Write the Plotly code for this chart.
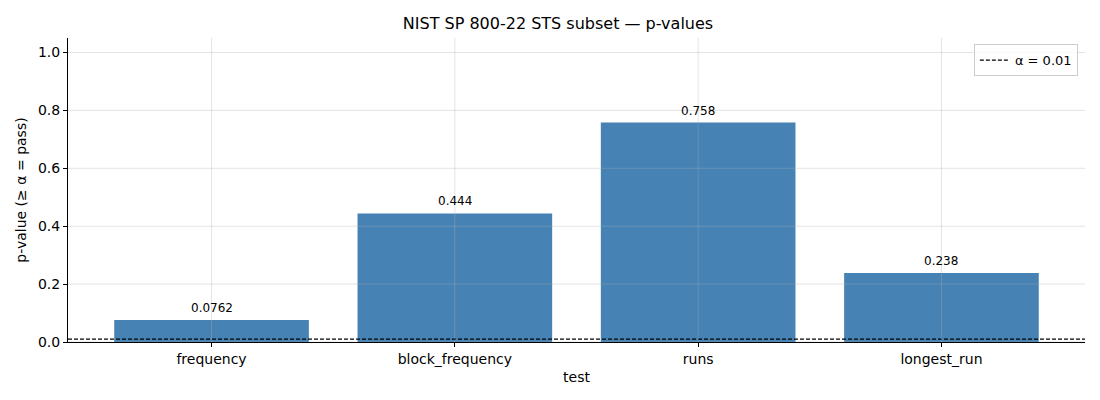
import plotly.graph_objects as go

# p-values from the STS subset run
tests = ["frequency", "block_frequency", "runs", "longest_run"]
p_values = [0.0762, 0.444, 0.758, 0.238]
p_labels = ["0.0762", "0.444", "0.758", "0.238"]
y_ticks = [0, 0.2, 0.4, 0.6, 0.8, 1.0]
alpha = 0.01

GRID = "rgba(176,176,176,0.35)"

fig = go.Figure()

fig.add_trace(go.Bar(
    x=tests, y=p_values, width=0.8,
    marker=dict(color="#4682b4", line=dict(width=0)),
    showlegend=False, hoverinfo="x+y",
))

# threshold line across the full axis
fig.add_trace(go.Scatter(
    x=[0, 1], y=[alpha, alpha], mode="lines",
    line=dict(color="black", width=1.2, dash="4px,2px"),
    name="α = 0.01", xaxis="x2",
))

for t, v, lab in zip(tests, p_values, p_labels):
    fig.add_annotation(x=t, y=v, text=lab, showarrow=False, yshift=12,
                       font=dict(size=12, color="black"))

# grid drawn on top of the bars, like the original
for t in tests:
    fig.add_vline(x=t, line=dict(color=GRID, width=1), layer="above")
for yt in y_ticks:
    fig.add_hline(y=yt, line=dict(color=GRID, width=1), layer="above")

# page body has an 8px margin, so offsets are compensated here
fig.update_layout(
    width=1100, height=400,
    margin=dict(l=58, r=23, t=30, b=66),
    plot_bgcolor="white", paper_bgcolor="white",
    font=dict(family="DejaVu Sans", size=14, color="black"),
    title=dict(text="NIST SP 800-22 STS subset — p-values", x=0.5, xanchor="center",
               y=0.9625, yanchor="middle", font=dict(size=16)),
    xaxis=dict(
        title=dict(text="test", font=dict(size=14), standoff=6),
        range=[-0.59, 3.59], showline=True, linecolor="black", linewidth=1,
        ticks="outside", ticklen=4, tickcolor="black",
        showgrid=False, zeroline=False,
    ),
    xaxis2=dict(range=[0, 1], overlaying="x", visible=False),
    yaxis=dict(
        title=dict(text="p-value (≥ α = pass)", font=dict(size=14), standoff=8),
        range=[0, 1.05], tickvals=y_ticks, tickformat=".1f",
        showline=True, linecolor="black", linewidth=1,
        ticks="outside", ticklen=4, tickcolor="black",
        showgrid=False, zeroline=False,
    ),
    legend=dict(x=0.993, y=0.98, xanchor="right", yanchor="top",
                bordercolor="#cccccc", borderwidth=1, bgcolor="rgba(255,255,255,0.8)",
                font=dict(size=13), itemwidth=30),
)

fig.write_html("out.html")
